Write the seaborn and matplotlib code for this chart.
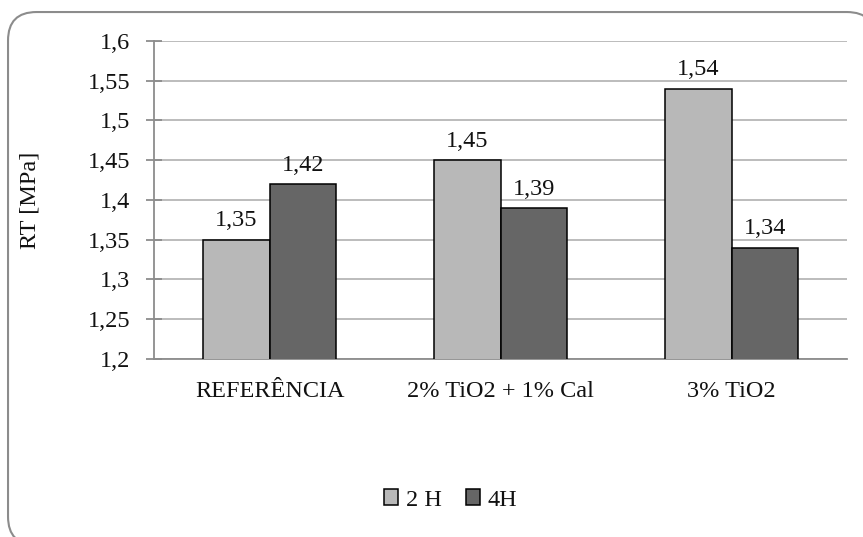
import matplotlib
matplotlib.use("Agg")
import matplotlib.pyplot as plt
from matplotlib.patches import FancyBboxPatch, Patch
import seaborn as sns
import pandas as pd

# Tensile strength by mix and curing time
categories = ["REFERÊNCIA", "2% TiO2 + 1% Cal", "3% TiO2"]
series_names = ["2 H", "4H"]
values_2h = [1.35, 1.45, 1.54]
values_4h = [1.42, 1.39, 1.34]
y_ticks = [1.2, 1.25, 1.3, 1.35, 1.4, 1.45, 1.5, 1.55, 1.6]
y_label = "RT [MPa]"

df = pd.DataFrame({
    "mix": categories * 2,
    "time": [series_names[0]] * 3 + [series_names[1]] * 3,
    "rt": values_2h + values_4h,
})

sns.set_theme(style="white")
plt.rcParams["font.family"] = ["Liberation Serif", "DejaVu Serif"]
FS = 17.5
TXT = "#111111"

def comma(v):
    s = f"{v:.2f}".rstrip("0").rstrip(".")
    return s.replace(".", ",")

fig = plt.figure(figsize=(8.63, 5.37), dpi=100)
# rounded chart-area border (runs past the right and bottom edges)
fig.patches.append(FancyBboxPatch((0.0093, -0.015), 1.005, 0.9926,
                                  boxstyle="round,pad=0,rounding_size=0.033",
                                  transform=fig.transFigure, facecolor="white",
                                  edgecolor="#8c8c8c", linewidth=1.5, zorder=-1,
                                  mutation_aspect=863 / 537))

ax = fig.add_axes([0.1785, 0.3315, 0.803, 0.5922])
ax.set_facecolor("none")

palette = {series_names[0]: "#b8b8b8", series_names[1]: "#666666"}
sns.barplot(data=df, x="mix", y="rt", hue="time", order=categories,
            hue_order=series_names, palette=palette, width=0.576,
            edgecolor="black", linewidth=1.1, saturation=1, ax=ax,
            legend=False, zorder=3)

ax.set_ylim(1.2, 1.6)
ax.set_yticks(y_ticks)
ax.set_yticklabels([comma(t) for t in y_ticks], fontsize=FS, color=TXT)
ax.set_xlabel("")
ax.set_ylabel(y_label, fontsize=FS, color=TXT)
ax.yaxis.set_label_coords(-0.1645, 0.5)
ax.tick_params(axis="x", length=0, pad=16, labelsize=FS, labelcolor=TXT)
ax.tick_params(axis="y", direction="inout", length=12, width=1.3,
               color="#8c8c8c", pad=11, left=True)
ax.grid(axis="y", color="#b0b0b0", linewidth=1.2, zorder=0)
ax.set_axisbelow(True)
for side in ["top", "right"]:
    ax.spines[side].set_visible(False)
for side in ["left", "bottom"]:
    ax.spines[side].set_color("#8c8c8c")
    ax.spines[side].set_linewidth(1.3)

for container in ax.containers:
    ax.bar_label(container, labels=[comma(b.get_height()) for b in container],
                 padding=6, fontsize=FS, color=TXT)

handles = [Patch(facecolor=palette[n], edgecolor="black", linewidth=1.1)
           for n in series_names]
fig.legend(handles, series_names, loc="center", bbox_to_anchor=(0.522, 0.069),
           ncol=2, frameon=False, fontsize=FS, handlelength=0.6,
           handleheight=0.6, handletextpad=0.3, columnspacing=1.0,
           labelcolor=TXT)

fig.savefig("out.png", dpi=100)
